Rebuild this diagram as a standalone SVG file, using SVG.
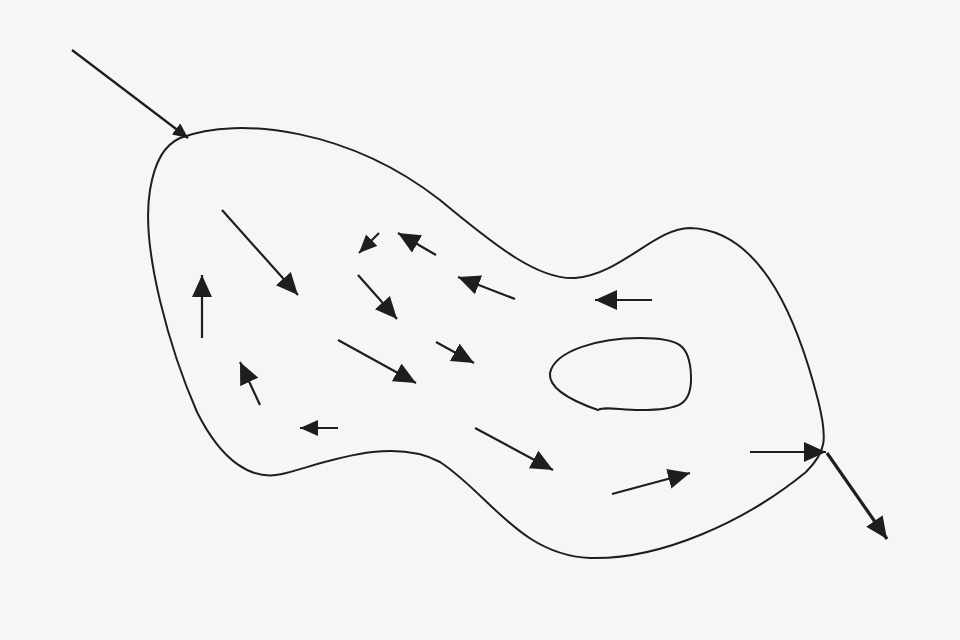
<svg xmlns="http://www.w3.org/2000/svg" width="960" height="640" viewBox="0 0 960 640">
<defs>
<marker id="ah" markerUnits="userSpaceOnUse" markerWidth="24" markerHeight="22" refX="22" refY="10" orient="auto"><path d="M0,0 L22,10 L0,20 z" fill="#1e1e1e"/></marker>
<marker id="ahs" markerUnits="userSpaceOnUse" markerWidth="20" markerHeight="18" refX="18" refY="8" orient="auto"><path d="M0,0 L18,8 L0,16 z" fill="#1e1e1e"/></marker>
<marker id="aht" markerUnits="userSpaceOnUse" markerWidth="16" markerHeight="16" refX="15" refY="7" orient="auto"><path d="M0,0 L15,7 L0,14 z" fill="#1e1e1e"/></marker>
<style>
.blob{fill:none;stroke:#1e1e1e;stroke-width:2}
.ar{stroke:#1e1e1e;stroke-width:2.2;fill:none;marker-end:url(#ah)}
.sm{stroke:#1e1e1e;stroke-width:2.2;fill:none;marker-end:url(#ahs)}
.tn{stroke:#1e1e1e;stroke-width:2.2;fill:none;marker-end:url(#aht)}
</style>
</defs>
<rect width="960" height="640" fill="#f6f6f6"/>
<g id="region">
<path class="blob" d="M180,138 C240,115 350,130 440,200 C500,250 540,280 575,278 C620,275 655,228 690,228 C765,230 800,330 818,400 C828,440 826,452 806,472 C745,522 660,560 590,558 C520,555 490,495 440,462 C390,435 320,465 282,474 C252,481 222,462 197,412 C172,355 140,250 150,190 C155,160 165,145 180,138 Z"/>
</g>
<g id="hole">
<path class="blob" d="M550,373 C555,350 600,338 640,338 C680,338 690,345 691,376 C692,405 680,410 640,410 C620,410 605,406 598,410 C575,402 548,390 550,373 Z"/>
</g>
<g id="connectors">
<line class="tn" x1="72" y1="50" x2="188" y2="138"/>
<line class="ar" x1="222" y1="210" x2="298" y2="295"/>
<line class="ar" x1="202" y1="338" x2="202" y2="275"/>
<line class="ar" x1="260" y1="405" x2="240" y2="362"/>
<line class="sm" x1="338" y1="428" x2="300" y2="428"/>
<line class="sm" x1="379" y1="233" x2="359" y2="253"/>
<line class="ar" x1="436" y1="255" x2="398" y2="233"/>
<line class="ar" x1="358" y1="275" x2="397" y2="319"/>
<line class="ar" x1="515" y1="299" x2="458" y2="277"/>
<line class="ar" x1="652" y1="300" x2="595" y2="300"/>
<line class="ar" x1="338" y1="340" x2="416" y2="383"/>
<line class="ar" x1="436" y1="342" x2="474" y2="363"/>
<line class="ar" x1="475" y1="428" x2="553" y2="470"/>
<line class="ar" x1="612" y1="494" x2="690" y2="473"/>
<line class="ar" x1="750" y1="452" x2="826" y2="452"/>
<line class="ar" x1="827" y1="453" x2="887" y2="539" style="stroke-width:3.2"/>
</g>
</svg>
